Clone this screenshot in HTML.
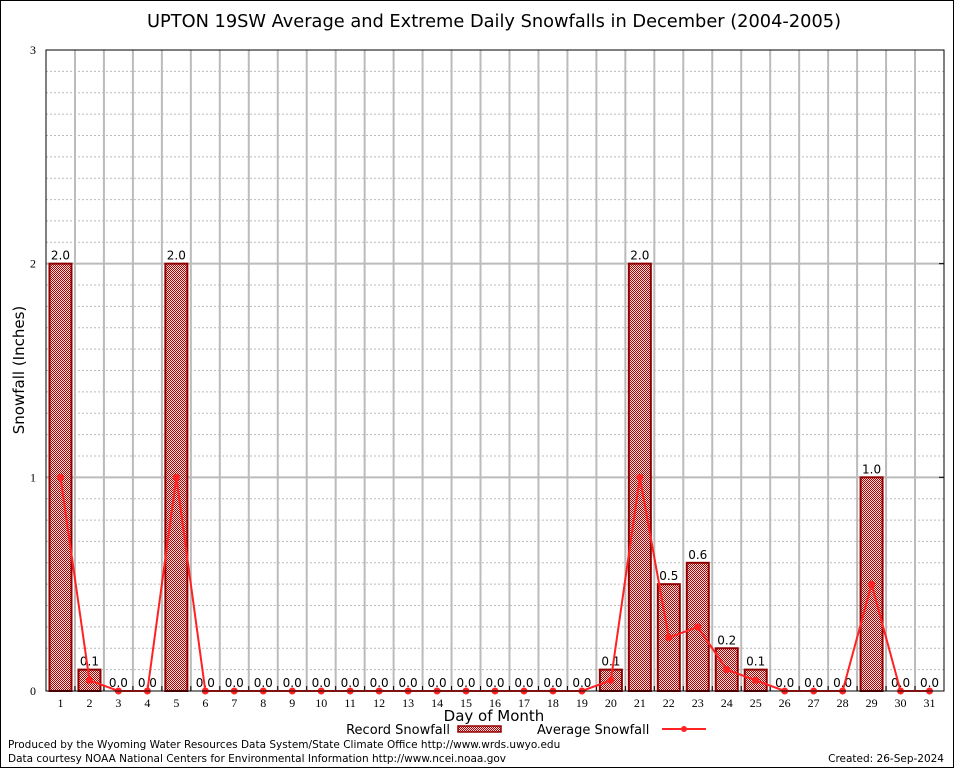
<!DOCTYPE html>
<html><head><meta charset="utf-8"><style>
body{margin:0;background:#fff}
svg{display:block}
.s{font-family:"DejaVu Sans","Liberation Sans",sans-serif}
.t{font-family:"Liberation Serif",serif;font-size:12px}
</style></head><body>
<svg id="c" width="954" height="768" xmlns="http://www.w3.org/2000/svg">
<defs><pattern id="chk" width="2" height="2" patternUnits="userSpaceOnUse"><rect width="2" height="2" fill="#fbe0e0"/><rect width="1" height="1" fill="#b00000"/><rect x="1" y="1" width="1" height="1" fill="#b00000"/></pattern></defs>
<rect x="0.5" y="0.5" width="953" height="767" fill="#fff" stroke="#000"/>
<text class="s" x="494" y="27" font-size="17.8" text-anchor="middle">UPTON 19SW Average and Extreme Daily Snowfalls in December (2004-2005)</text>
<g id="grid"></g><g id="bars"></g><g id="line"></g>
<rect x="46" y="50" width="898" height="641" fill="none" stroke="#000"/>
<text class="s" x="24" y="370" font-size="15" text-anchor="middle" transform="rotate(-90 24 370)">Snowfall (Inches)</text>
<text class="s" x="494" y="721" font-size="15" text-anchor="middle">Day of Month</text>
<g><text class="s" x="450" y="734" font-size="13" text-anchor="end">Record Snowfall</text><rect x="458" y="726" width="43" height="6" fill="url(#chk)" stroke="#900000" stroke-width="1.5"/></g>
<g><text class="s" x="537" y="734" font-size="13">Average Snowfall</text><line x1="662" y1="729" x2="706" y2="729" stroke="#f22" stroke-width="2"/><circle cx="684" cy="729" r="3" fill="#f22"/></g>
<text class="s" x="8" y="748" font-size="10.5">Produced by the Wyoming Water Resources Data System/State Climate Office http://www.wrds.uwyo.edu</text>
<text class="s" x="8" y="762" font-size="10.5">Data courtesy NOAA National Centers for Environmental Information http://www.ncei.noaa.gov</text>
<text class="s" x="944" y="762" font-size="10.5" text-anchor="end">Created: 26-Sep-2024</text>
</svg>
<script>
const days=[1,2,3,4,5,6,7,8,9,10,11,12,13,14,15,16,17,18,19,20,21,22,23,24,25,26,27,28,29,30,31];
const recordVals=[2.0,0.1,0,0,2.0,0,0,0,0,0,0,0,0,0,0,0,0,0,0,0.1,2.0,0.5,0.6,0.2,0.1,0,0,0,1.0,0,0];
const avgVals=[1.0,0.05,0,0,1.0,0,0,0,0,0,0,0,0,0,0,0,0,0,0,0.05,1.0,0.25,0.3,0.1,0.05,0,0,0,0.5,0,0];
const yTicks=[0,1,2,3];
const L=46,R=944,T=50,B=691,yMax=3;
const slot=(R-L)/days.length;
const xs=i=>L+slot*(i+0.5);
const ys=v=>B-(v/yMax)*(B-T);
const NS="http://www.w3.org/2000/svg";
function mk(tag,a,p){const e=document.createElementNS(NS,tag);for(const k in a)e.setAttribute(k,a[k]);p.appendChild(e);return e;}
const g=document.getElementById('grid'),gb=document.getElementById('bars'),gl=document.getElementById('line');
for(let k=1;k<yMax*10;k++){if(k%10===0)continue;const y=ys(k/10);
const e=mk('line',{x1:L,x2:R,y1:y,y2:y,stroke:'#bbb','stroke-dasharray':'2,2'},g);

}
yTicks.forEach(v=>{const y=ys(v);
if(v>0&&v<yMax){const e=mk('line',{x1:L,x2:R,y1:y,y2:y,stroke:'#bbb','stroke-width':2},g);}
const t=mk('text',{x:L-10,y:y+4,'text-anchor':'end',class:'t'},g);t.textContent=v;


const tk=mk('line',{x1:R-5,x2:R,y1:y,y2:y,stroke:'#000'},g);});
days.forEach((d,i)=>{
if(i>0){const x=L+slot*i;const e=mk('line',{x1:x,x2:x,y1:T,y2:B,stroke:'#bbb','stroke-width':2},g);
const tk=mk('line',{x1:x,x2:x,y1:B-5,y2:B,stroke:'#000'},g);}
const t=mk('text',{x:xs(i),y:B+16,'text-anchor':'middle',class:'t'},g);t.textContent=d;


const v=recordVals[i];
if(v>0){const r=mk('rect',{x:xs(i)-11,y:ys(v),width:22,height:B-ys(v),fill:'url(#chk)',stroke:'#900000','stroke-width':2},gb);

}
const lb=mk('text',{x:xs(i),y:ys(v)-4,'text-anchor':'middle',class:'s','font-size':12},gb);lb.textContent=v.toFixed(1);


});
const pts=avgVals.map((v,i)=>xs(i)+','+ys(v)).join(' ');
const pl=mk('polyline',{points:pts,fill:'none',stroke:'#f22','stroke-width':2},gl);


avgVals.forEach((v,i)=>{const c=mk('circle',{cx:xs(i),cy:ys(v),r:3.5,fill:'#f22'},gl);

});
</script>
</body></html>
